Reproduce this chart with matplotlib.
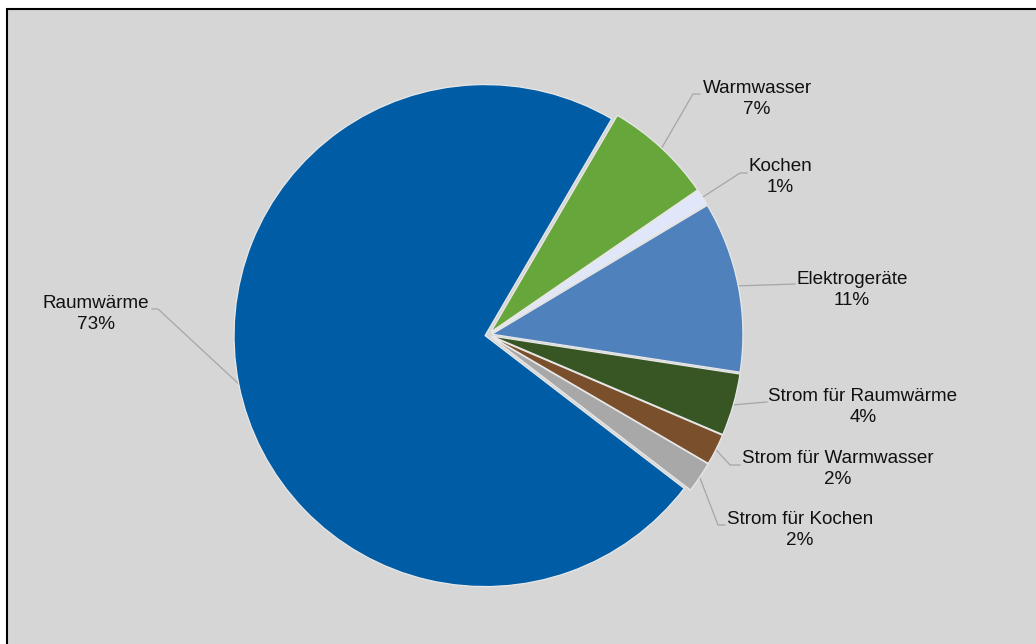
import numpy as np
import matplotlib.pyplot as plt
from matplotlib.patches import Rectangle

plt.rcParams['font.family'] = ['Liberation Sans', 'DejaVu Sans']

categories = ['Raumwärme', 'Warmwasser', 'Kochen', 'Elektrogeräte',
              'Strom für Raumwärme', 'Strom für Warmwasser', 'Strom für Kochen']
shares = [73, 7, 1, 11, 4, 2, 2]
colors = ['#005ca5', '#67a63b', '#e1e7fa', '#4f81bd',
          '#375623', '#7a4f2b', '#a8a8a8']

# label centres and leader-line bends, in pixels
label_pos = [(96, 314), (757, 99), (780, 177), (852, 290),
             (863, 407), (838, 469), (800, 530)]
bend_pos = [(158, 309), (693, 94), (740, 173), None,
            None, (730, 465), (718, 525)]
end_pos = [(152, 309), (700, 94), (747, 173), (795, 284),
           (767, 402), (740, 465), (725, 525)]

W, H = 1036, 644
cx, cy, R = 488, 335, 251

def px(p):
    return ((p[0] - cx) / R, (cy - p[1]) / R)

fig = plt.figure(figsize=(W / 100, H / 100), dpi=100, facecolor='white')
# gray chart area with black frame, behind the axes
fig.patches.append(Rectangle((7 / W, -0.02), 1.1, (H - 9) / H + 0.02,
                             transform=fig.transFigure, facecolor='#d6d6d6',
                             edgecolor='black', lw=1.5, zorder=-10))

ax = fig.add_axes([0, 0, 1, 1])

explode = [0.012, 0.016, 0.016, 0.016, 0.016, 0.016, 0.016]
wedges, _ = ax.pie(shares, colors=colors, startangle=322.5, counterclock=False,
                   explode=explode, radius=1.0,
                   wedgeprops=dict(edgecolor='#e8e8e8', linewidth=0.9))

# pie() resets the limits, so fix them afterwards
ax.set_xlim(-cx / R, (W - cx) / R)
ax.set_ylim(-(H - cy) / R, cy / R)
ax.set_aspect('equal', adjustable='datalim')
ax.axis('off')

for w, cat, val, lp, bp, ep in zip(wedges, categories, shares,
                                    label_pos, bend_pos, end_pos):
    mid = np.deg2rad((w.theta1 + w.theta2) / 2)
    x0 = w.center[0] + np.cos(mid)
    y0 = w.center[1] + np.sin(mid)
    pts = [(x0, y0)]
    if bp is not None:
        pts.append(px(bp))
    pts.append(px(ep))
    xs, ys = zip(*pts)
    ax.plot(xs, ys, color='#a6a6a6', lw=0.9, zorder=0.5)
    tx, ty = px(lp)
    ax.text(tx, ty, f'{cat}\n{val}%', ha='center', va='center',
            fontsize=13.6, linespacing=1.3, color='#111111')

fig.savefig('out.png', dpi=100, facecolor=fig.get_facecolor())
